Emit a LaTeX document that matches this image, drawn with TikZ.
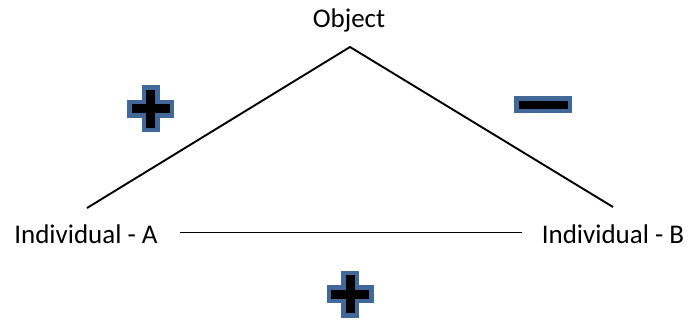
\documentclass[tikz,border=0pt]{standalone}
\usepackage{fontspec}
\setmainfont{Carlito}
\definecolor{signblue}{RGB}{66,104,154}
\begin{document}
\begin{tikzpicture}[x=1pt,y=-1pt,
  lbl/.style={inner sep=0pt,anchor=base,font=\fontsize{27}{30}\selectfont},
  conn/.style={line width=1.9pt},
  signshape/.style={fill=black,draw=signblue,line width=4.5pt,line join=miter}]
\useasboundingbox (0,0) rectangle (688,321);
% labels
\node[lbl] (obj) at (349,28) {Object};
\node[lbl] (ia) at (86,243) {Individual - A};
\node[lbl] (ib) at (613,243) {Individual - B};
% triangle
\coordinate (apex) at (350,47);
\coordinate (la) at (87,208);
\coordinate (ra) at (613,207);
\coordinate (h1) at (180,232.5);
\coordinate (h2) at (522,232.5);
\draw[conn] (la) -- (apex) -- (ra);
\draw[conn] (h1) -- (h2);
% plus signs
\newcommand{\plussign}[2]{%
  \draw[signshape] (#1-6.75,#2-21.25) -- (#1+6.75,#2-21.25) -- (#1+6.75,#2-6.75)
    -- (#1+21.25,#2-6.75) -- (#1+21.25,#2+6.75) -- (#1+6.75,#2+6.75)
    -- (#1+6.75,#2+21.25) -- (#1-6.75,#2+21.25) -- (#1-6.75,#2+6.75)
    -- (#1-21.25,#2+6.75) -- (#1-21.25,#2-6.75) -- (#1-6.75,#2-6.75) -- cycle;}
\plussign{150.5}{108.5}
\plussign{350}{294}
% minus sign
\draw[signshape] (516.25,98.25) rectangle (569.75,110.75);
\end{tikzpicture}
\end{document}
